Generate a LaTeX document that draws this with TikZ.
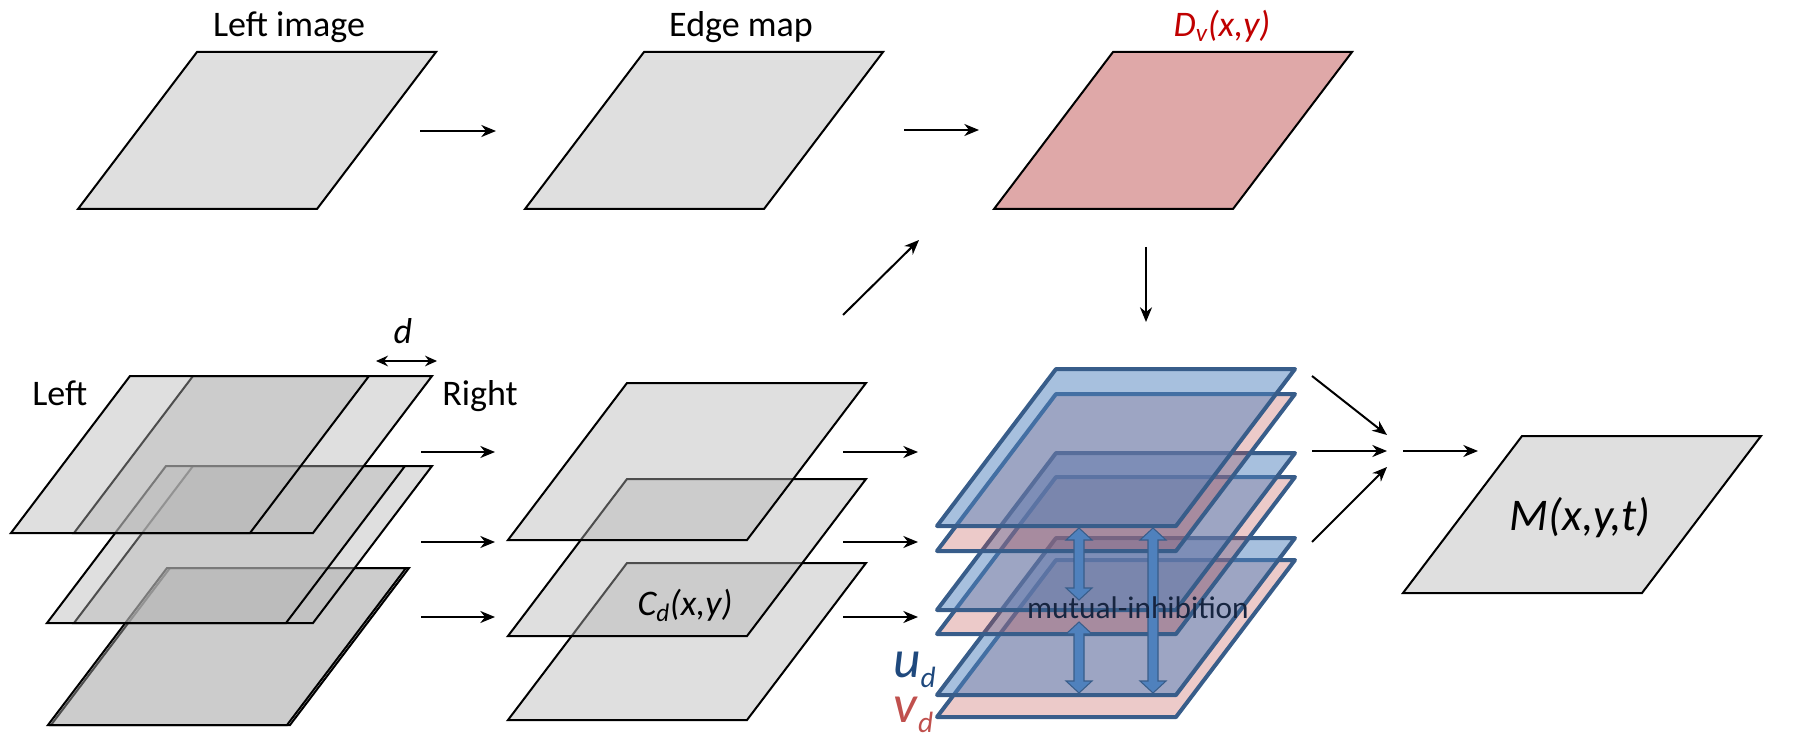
\documentclass[tikz,border=0pt]{standalone}
\usepackage{fontspec}
\setmainfont{Carlito}
\usetikzlibrary{arrows.meta}
\definecolor{planegray}{RGB}{180,180,180}
\definecolor{dvfill}{RGB}{223,168,168}
\definecolor{dvred}{RGB}{192,0,0}
\definecolor{ublue}{RGB}{79,129,189}
\definecolor{uedge}{RGB}{56,93,138}
\definecolor{vred}{RGB}{192,80,77}
\definecolor{udark}{RGB}{31,73,125}
\definecolor{mitext}{RGB}{23,37,64}
\newcommand\planeat[2]{(#1,#2) -- ++(239,0) -- ++(-119,157) -- ++(-239,0) -- cycle}
\newcommand\dblarrow[3]{(#1,#2) -- ++(13,12) -- ++(-8,0) -- (#1+5,#3-12) -- ++(8,0) -- (#1,#3) -- ++(-13,-12) -- ++(8,0) -- (#1-5,#2+12) -- ++(-8,0) -- cycle}
\begin{document}
\begin{tikzpicture}[x=0.75pt,y=-0.75pt,
  glassplane/.style={draw=black, line width=1.5pt, fill=planegray, fill opacity=0.43},
  dvplane/.style={draw=black, line width=1.5pt, fill=dvfill},
  uplane/.style={draw=uedge, line width=3pt, line join=round, fill=ublue, fill opacity=0.5},
  vplane/.style={draw=uedge, line width=3pt, line join=round, fill=vred, fill opacity=0.3},
  arr/.style={-{Stealth[length=11pt,width=9pt,inset=3.5pt]}, line width=1.5pt},
  darr/.style={{Stealth[length=9pt,width=8pt,inset=3pt]}-{Stealth[length=9pt,width=8pt,inset=3pt]}, line width=1.3pt},
  lbl/.style={inner sep=0pt, font=\fontsize{27}{32}\selectfont},
  blockarrow/.style={fill=ublue, draw=uedge, line width=0.8pt, line join=miter}
]
\useasboundingbox (0,0) rectangle (1820,734);

% ---------- top row ----------
\draw[glassplane] \planeat{197}{52};
\draw[glassplane] \planeat{644}{52};
\draw[dvplane] \planeat{1113}{52};
\node[lbl, anchor=base] (lblLeftImage) at (289,37) {Left image};
\node[lbl, anchor=base] (lblEdge) at (741,37) {Edge map};
\node[lbl, anchor=base, text=dvred] (lblDv) at (1222,37) {\textit{D\textsubscript{v}(x,y)}};

% ---------- left stereo stack ----------
\draw[glassplane] \planeat{170}{568};
\draw[glassplane] \planeat{167}{568};
\draw[glassplane] \planeat{193}{466};
\draw[glassplane] \planeat{166}{466};
\draw[glassplane] \planeat{193}{376};
\draw[glassplane] \planeat{130}{376};
\node[lbl, anchor=base west] (lblLeft) at (32,405) {Left};
\node[lbl, anchor=base west] (lblRight) at (442,405) {Right};
\node[lbl, anchor=base] (lblD) at (403,344) {\textit{d}};
\coordinate (dL) at (376,361);
\coordinate (dR) at (437,361);
\draw[darr] (dL) -- (dR);

% ---------- middle stack ----------
\draw[glassplane] \planeat{627}{563};
\draw[glassplane] \planeat{627}{479};
\draw[glassplane] \planeat{627}{383};
\node[lbl, anchor=base] (lblC) at (685,615) {\textit{C\textsubscript{d}(x,y)}};

% ---------- u/v stack ----------
\draw[vplane] \planeat{1056}{560};
\draw[uplane] \planeat{1056}{538};
\draw[vplane] \planeat{1056}{477};
\draw[uplane] \planeat{1056}{453};
\draw[vplane] \planeat{1056}{394};
\draw[uplane] \planeat{1056}{369};
\draw[blockarrow] \dblarrow{1079}{528}{600};
\draw[blockarrow] \dblarrow{1079}{622}{693};
\draw[blockarrow] \dblarrow{1153}{528}{693};
\node[inner sep=0pt, anchor=base, text=mitext, font=\fontsize{23.5}{28}\selectfont] (lblMI) at (1138,618) {mutual-inhibition};
\node[inner sep=0pt, anchor=base west, text=udark, font=\fontsize{40}{44}\selectfont] (lblU) at (893,677) {\textit{u}\raisebox{-8pt}{\fontsize{22}{22}\selectfont\textit{d}}};
\node[inner sep=0pt, anchor=base west, text=vred, font=\fontsize{40}{44}\selectfont] (lblV) at (893,722) {\textit{v}\raisebox{-8pt}{\fontsize{22}{22}\selectfont\textit{d}}};

% ---------- output ----------
\draw[glassplane] \planeat{1522}{436};
\node[inner sep=0pt, anchor=base, font=\fontsize{34}{40}\selectfont] (lblM) at (1580,530) {\textit{M(x,y,t)}};

% ---------- arrows ----------
\coordinate (a1s) at (420,131);  \coordinate (a1e) at (496,131);
\coordinate (a2s) at (904,130);  \coordinate (a2e) at (979,130);
\coordinate (a3s) at (843,315);  \coordinate (a3e) at (919,240);
\coordinate (a4s) at (1146,247); \coordinate (a4e) at (1146,322);
\draw[arr] (a1s) -- (a1e);
\draw[arr] (a2s) -- (a2e);
\draw[arr] (a3s) -- (a3e);
\draw[arr] (a4s) -- (a4e);
\foreach \yy [count=\i] in {452,542,617} {
  \coordinate (ls\i) at (421,\yy); \coordinate (le\i) at (495,\yy);
  \draw[arr] (ls\i) -- (le\i);
  \coordinate (ms\i) at (843,\yy); \coordinate (me\i) at (918,\yy);
  \draw[arr] (ms\i) -- (me\i);
}
\coordinate (r1s) at (1312,376); \coordinate (r1e) at (1387,435);
\coordinate (r2s) at (1312,451); \coordinate (r2e) at (1387,451);
\coordinate (r3s) at (1312,542); \coordinate (r3e) at (1387,467);
\coordinate (r4s) at (1403,451); \coordinate (r4e) at (1478,451);
\draw[arr] (r1s) -- (r1e);
\draw[arr] (r2s) -- (r2e);
\draw[arr] (r3s) -- (r3e);
\draw[arr] (r4s) -- (r4e);
\end{tikzpicture}
\end{document}
